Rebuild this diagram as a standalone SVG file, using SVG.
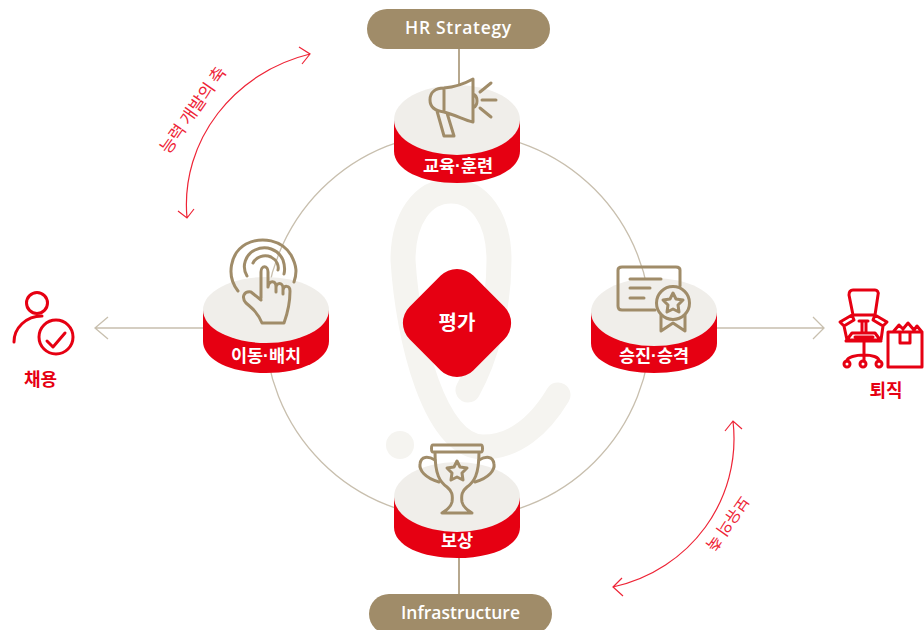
<svg xmlns="http://www.w3.org/2000/svg" width="924" height="630" viewBox="0 0 924 630">
<style>
.k{font-family:"Noto Sans CJK KR","Noto Sans",sans-serif;font-weight:700;text-anchor:middle}
.w{fill:#fff;font-size:17.500px}
.d{font-family:"Liberation Sans",sans-serif}
.r{fill:#e60012;font-size:18px}
.p{fill:#fff;font-family:"Open Sans","Noto Sans",sans-serif;font-weight:600;font-size:17.500px;text-anchor:middle}
.a{font-family:"Noto Sans CJK KR",sans-serif;font-weight:400;font-size:17px;fill:#ee2436;text-anchor:middle}
.ic{fill:none;stroke:#a08c69;stroke-width:3;stroke-linejoin:round;stroke-linecap:round}
.re{fill:none;stroke:#e60012;stroke-width:3;stroke-linejoin:round;stroke-linecap:round}
.side{fill:#e60012}.top{fill:#f0eeea}
.cn{fill:none;stroke:#c8bfae;stroke-width:1.3}
.st{fill:none;stroke:#a08c69;stroke-width:1.5}
.ra{fill:none;stroke:#ee2436;stroke-width:1.2}
</style>
<path d="M468 390C486 358 499 310 499 260C499 218 479 191 451 191C423 191 403 218 403 260C408 340 435 447 483 447C515 447 540 425 558 395" fill="none" stroke="#f5f4f0" stroke-width="25" stroke-linecap="round"/>
<circle cx="400" cy="445" r="14" fill="#f5f4f0"/>
<g id="connectors">
<circle class="cn" cx="458" cy="325.500" r="193"/>
<path class="cn" d="M204 328H95M108 317L95 328L108 339"/>
<path class="cn" d="M717 328H824M813 317L824 328L813 339"/>
<path class="st" d="M459 49V90M459 555V594"/>
<path class="ra" d="M187 218C180 140 235 72 310 54M299 47L310 54L302 64M178 211L187 218L194 209"/>
<path class="ra" d="M733 421C742 500 690 570 613 587M725 431L733 421L742 429M622 578L613 587L623 596"/>
</g>
<text class="a" transform="translate(193 110) rotate(-55)" y="6">능력 개발의 축</text>
<text class="a" transform="translate(728 524) rotate(125)" y="6" style="font-size:16px">보유의 축</text>
<g id="hr"><rect x="367" y="9" width="183" height="40" rx="20" fill="#a08c69"/><text class="p" x="458.500" y="33.500" style="letter-spacing:.7px">HR Strategy</text></g>
<g id="infra"><rect x="369" y="594" width="183" height="40" rx="20" fill="#a08c69"/><text class="p" x="460.500" y="618.500">Infrastructure</text></g>
<g id="edu">
<path class="side" d="M394 120V151C394 170 422 183 457 183C492 183 520 170 520 151V120Z"/>
<ellipse class="top" cx="457" cy="120" rx="63" ry="35"/>
<text class="k w" x="458" y="172">교육<tspan class="d">·</tspan>훈련</text>
<path class="ic" d="M444 88C436 88 430 92 430 100C430 108 436 111 444 112C456 115 464 120 473 122V79C464 84 456 87 444 88ZM444 88V112M437 111L444 136H454L447 113M473 94C476 95 477 98 477 101C477 104 475 107 473 108M480 92L491 83M482 100H496M480 108L491 117"/>
</g>
<g id="move">
<path class="side" d="M203 310V341C203 360 231 373 266 373C301 373 329 360 329 341V310Z"/>
<ellipse class="top" cx="266" cy="310" rx="63" ry="33"/>
<text class="k w" x="266" y="362">이동<tspan class="d">·</tspan>배치</text>
<path class="ic" d="M238 291C226 276 230 253 246 244C262 236 282 240 291 255C297 266 297 273 294 282M247 276C241 266 246 254 255 250C266 245 278 249 283 260C285 266 285 270 284 274M253 263C256 257 264 254 271 257C277 260 279 266 278 270M261 298V272C261 265 268 265 268 272V287M268 287C269 280 276 280 276 287V292M276 288C276 282 283 282 283 288V294M283 290C284 285 290 285 290 291C290 302 288 312 284 323H262C258 313 252 308 246 303C241 297 244 291 251 292L261 300"/>
</g>
<g id="promote">
<path class="side" d="M591 312V343C591 362 619 373 654 373C689 373 717 362 717 343V312Z"/>
<ellipse class="top" cx="654" cy="312" rx="63" ry="34"/>
<text class="k w" x="654" y="362">승진<tspan class="d">·</tspan>승격</text>
<path class="ic" d="M655 310H622C619 310 618 308 618 306V270C618 268 619 267 622 267H676C679 267 680 268 680 270V286M630 279H661M630 288H650M630 298H644"/>
<circle class="ic" cx="673" cy="303" r="16.500"/>
<path class="ic" d="M673 293L676 299L683 300L678 305L679 312L673 309L667 312L668 305L663 300L670 299ZM661 315V331L673 323L685 331V315"/>
</g>
<g id="reward">
<path class="side" d="M394 497V527C394 546 422 558 457 558C492 558 520 546 520 527V497Z"/>
<ellipse class="top" cx="457" cy="497" rx="63" ry="35"/>
<text class="k w" x="457" y="547">보상</text>
<path class="ic" d="M433 445H481C483 445 483 452 481 452H433C431 452 431 445 433 445ZM435 452C435 475 440 482 447 487C452 491 453 495 452 502C451 507 447 510 442 513H472C467 510 463 507 462 502C461 495 462 491 467 487C474 482 479 475 479 452"/>
<path class="ic" d="M439 482C425 478 419 470 420 464C421 456 428 456 435 460M475 482C489 478 495 470 494 464C493 456 486 456 479 460"/>
<path class="ic" d="M457 461L460 467L467 468L462 473L463 480L457 477L451 480L452 473L447 468L454 467Z"/>
</g>
<g id="eval">
<rect x="412" y="278" width="90" height="90" rx="23" fill="#e60012" transform="rotate(45 457 323)"/>
<text class="k" x="457" y="329.500" style="fill:#fff;font-size:20px">평가</text>
</g>
<g id="hire">
<circle class="re" cx="37" cy="303" r="10.500"/>
<path class="re" d="M14 342C14 328 26 316 42 316"/>
<circle class="re" cx="56" cy="337" r="17"/>
<path class="re" d="M47 341L53 347L65 333"/>
<text class="k r" x="40.500" y="386">채용</text>
</g>
<g id="leave">
<path class="re" d="M853 315L849 295C849 292 850 290 853 290H875C877 290 879 292 878 295L875 315ZM840 322L852 315L854 320L844 326ZM887 322L875 315L873 320L883 326ZM844 326L847 340H881L883 326M852 333H875L881 341H846ZM855 337H873M862 322V333M866 322V333M859 321H868M864 342V361M847 361C847 357 856 355 864 355C872 355 879 357 879 361"/>
<circle class="re" cx="847" cy="364" r="3"/><circle class="re" cx="863" cy="364" r="3"/><circle class="re" cx="879" cy="364" r="3"/>
<path class="re" d="M888 332H922V367H888ZM900 332V343H910V332M893 332L899 325L903 329L908 323L914 330L917 326L922 332"/>
<text class="k r" x="886" y="397">퇴직</text>
</g>
</svg>
